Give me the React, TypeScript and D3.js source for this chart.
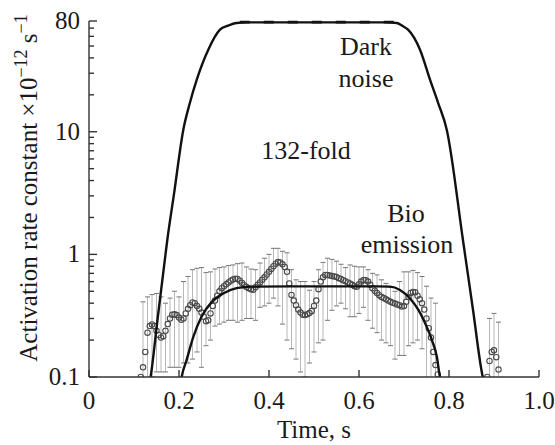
// Activation rate: dark noise vs bio emission (log scale)
import React from "react";
import * as d3 from "d3";

const SERIF = "Times New Roman";

// axis ticks
const xTicks = [0, 0.2, 0.4, 0.6, 0.8, 1.0];
const xTickLabels = ["0", "0.2", "0.4", "0.6", "0.8", "1.0"];
const yTicks = [0.1, 1, 10, 80];
const yTickLabels = ["0.1", "1", "10", "80"];

// dark noise curve (solid) and its plateau (dashed)
const darkTime = [0.134, 0.137, 0.153, 0.17, 0.174, 0.189, 0.2096, 0.2244, 0.2393, 0.2651, 0.2911, 0.309, 0.328, 0.35, 0.5, 0.66, 0.684, 0.6956, 0.709, 0.7356, 0.758, 0.7756, 0.795, 0.831, 0.853, 0.875, 0.878];
const darkRate = [0.085, 0.1, 0.31, 1.0, 1.31, 3.13, 10.4, 17.3, 26.5, 46.7, 68, 73.3, 77.1, 78, 78, 78, 77.1, 73.3, 68, 46.7, 26.5, 17.3, 10.4, 1.31, 0.36, 0.1, 0.09];
const plateauTime = [0.335, 0.68];
const plateauRate = [78.3, 78.3];

// bio emission fit
const fitTime = [0.204, 0.206, 0.217, 0.232, 0.25, 0.273, 0.298, 0.328, 0.36, 0.45, 0.55, 0.64, 0.669, 0.691, 0.713, 0.732, 0.747, 0.762, 0.773, 0.78, 0.782];
const fitRate = [0.09, 0.1, 0.138, 0.213, 0.31, 0.41, 0.48, 0.53, 0.546, 0.548, 0.548, 0.548, 0.546, 0.513, 0.439, 0.352, 0.274, 0.2, 0.146, 0.1, 0.095];

// measured bio emission points
const bioTime = [
  0.115, 0.12, 0.125, 0.13, 0.135, 0.14, 0.145, 0.15, 0.155, 0.16, 0.165, 0.17, 0.175, 0.18, 0.185, 0.19, 0.195, 0.2, 0.205, 0.21,
  0.215, 0.22, 0.225, 0.23, 0.235, 0.24, 0.245, 0.25, 0.255, 0.26, 0.265, 0.27, 0.275, 0.28, 0.285, 0.29, 0.295, 0.3, 0.305, 0.31,
  0.315, 0.32, 0.325, 0.33, 0.335, 0.34, 0.345, 0.35, 0.355, 0.36, 0.365, 0.37, 0.375, 0.38, 0.385, 0.39, 0.395, 0.4, 0.405, 0.41,
  0.415, 0.42, 0.425, 0.43, 0.435, 0.44, 0.445, 0.45, 0.455, 0.46, 0.465, 0.47, 0.475, 0.48, 0.485, 0.49, 0.495, 0.5, 0.505, 0.51,
  0.515, 0.52, 0.525, 0.53, 0.535, 0.54, 0.545, 0.55, 0.555, 0.56, 0.565, 0.57, 0.575, 0.58, 0.585, 0.59, 0.595, 0.6, 0.605, 0.61,
  0.615, 0.62, 0.625, 0.63, 0.635, 0.64, 0.645, 0.65, 0.655, 0.66, 0.665, 0.67, 0.675, 0.68, 0.685, 0.69, 0.695, 0.7, 0.705, 0.71,
  0.715, 0.72, 0.725, 0.73, 0.735, 0.74, 0.745, 0.75, 0.755, 0.76, 0.765, 0.77, 0.775,
  0.885, 0.89, 0.895, 0.9, 0.905, 0.91,
];
const bioRate = [
  0.1, 0.12, 0.16, 0.23, 0.26, 0.268, 0.26, 0.238, 0.22, 0.21, 0.215, 0.238, 0.27, 0.3, 0.322, 0.325, 0.32, 0.305, 0.293, 0.3,
  0.33, 0.36, 0.385, 0.405, 0.4, 0.38, 0.36, 0.335, 0.31, 0.285, 0.29, 0.33, 0.38, 0.42, 0.46, 0.5, 0.53, 0.55, 0.57, 0.59,
  0.61, 0.625, 0.632, 0.63, 0.61, 0.585, 0.56, 0.543, 0.53, 0.52, 0.515, 0.54, 0.565, 0.59, 0.62, 0.65, 0.685, 0.72, 0.76, 0.8,
  0.84, 0.865, 0.86, 0.83, 0.79, 0.72, 0.58, 0.467, 0.42, 0.385, 0.355, 0.335, 0.322, 0.32, 0.325, 0.332, 0.345, 0.38, 0.42, 0.52,
  0.6, 0.65, 0.68, 0.68, 0.672, 0.665, 0.66, 0.655, 0.64, 0.63, 0.615, 0.605, 0.59, 0.58, 0.565, 0.55, 0.545, 0.57, 0.6, 0.619,
  0.615, 0.6, 0.565, 0.53, 0.505, 0.485, 0.465, 0.45, 0.44, 0.43, 0.42, 0.41, 0.403, 0.397, 0.39, 0.385, 0.375, 0.38, 0.41, 0.45,
  0.485, 0.494, 0.49, 0.46, 0.43, 0.4, 0.355, 0.3, 0.25, 0.21, 0.16, 0.125, 0.105,
  0.1, 0.135, 0.16, 0.165, 0.145, 0.115,
];

// error bars
const errTime = [
  0.12, 0.13, 0.14, 0.15, 0.16, 0.17, 0.18, 0.19, 0.2, 0.21, 0.22, 0.23, 0.24, 0.25, 0.26, 0.27, 0.28, 0.29, 0.3, 0.31,
  0.32, 0.33, 0.34, 0.35, 0.36, 0.37, 0.38, 0.39, 0.4, 0.41, 0.42, 0.43, 0.44, 0.45, 0.46, 0.47, 0.48, 0.49, 0.5, 0.51,
  0.52, 0.53, 0.54, 0.55, 0.56, 0.57, 0.58, 0.59, 0.6, 0.61, 0.62, 0.63, 0.64, 0.65, 0.66, 0.67, 0.68, 0.69, 0.7, 0.71,
  0.72, 0.73, 0.74, 0.75, 0.76, 0.77, 0.89, 0.9, 0.91,
];
const errHigh = [
  0.41, 0.45, 0.47, 0.48, 0.45, 0.4, 0.44, 0.5, 0.45, 0.6, 0.66, 0.75, 0.77, 0.78, 0.71, 0.72, 0.76, 0.78, 0.79, 0.81,
  0.82, 0.84, 0.85, 0.79, 0.76, 0.75, 0.85, 0.93, 1.0, 1.12, 1.12, 1.06, 1.03, 0.75, 0.62, 0.6, 0.6, 0.51, 0.6, 0.75,
  0.86, 0.93, 0.91, 0.88, 0.83, 0.78, 0.82, 0.8, 0.79, 0.79, 0.75, 0.7, 0.68, 0.62, 0.58, 0.54, 0.5, 0.6, 0.72, 0.72,
  0.74, 0.71, 0.66, 0.55, 0.44, 0.4, 0.3, 0.33, 0.28,
];
const errLow = [
  0.09, 0.09, 0.1, 0.11, 0.11, 0.11, 0.12, 0.12, 0.12, 0.13, 0.13, 0.14, 0.16, 0.12, 0.18, 0.2, 0.26, 0.27, 0.28, 0.29,
  0.29, 0.28, 0.29, 0.3, 0.3, 0.29, 0.37, 0.38, 0.4, 0.44, 0.38, 0.27, 0.2, 0.17, 0.14, 0.11, 0.1, 0.13, 0.16, 0.19,
  0.2, 0.29, 0.35, 0.38, 0.4, 0.36, 0.31, 0.31, 0.33, 0.37, 0.29, 0.25, 0.23, 0.2, 0.19, 0.18, 0.14, 0.15, 0.15, 0.18,
  0.19, 0.2, 0.17, 0.09, 0.09, 0.09, 0.09, 0.09, 0.09,
];

const x = d3.scaleLinear().domain([0, 1]).range([89, 539]);
const y = d3.scaleLog().domain([0.1, 80]).range([377, 21]);

const minorY = [0.2, 0.3, 0.4, 0.5, 0.6, 0.7, 0.8, 0.9, 2, 3, 4, 5, 6, 7, 8, 9, 20, 30, 40, 50, 60, 70];

const makePath = (ts: number[], vs: number[]) =>
  d3
    .line<number>()
    .x((t) => x(t))
    .y((_, i) => y(vs[i]))
    .curve(d3.curveMonotoneX)(ts) || "";

export default function App() {
  const [x0, x1] = x.range();
  const [y0, y1] = y.range();

  return (
    <svg width={555} height={445} style={{ position: "absolute", left: 0, top: 0, background: "#fff" }}>
      <defs>
        <clipPath id="plotArea">
          <rect x={x0} y={y1 - 4} width={x1 - x0} height={y0 - y1 + 4} />
        </clipPath>
      </defs>

      <g clipPath="url(#plotArea)">
        {errTime.map((t, i) => {
          const cx = x(t);
          return (
            <g key={"e" + i}>
              <line x1={cx} x2={cx} y1={y(errHigh[i])} y2={y(errLow[i])} stroke="#b8b8b8" strokeWidth={1} />
              <line x1={cx - 2.5} x2={cx + 2.5} y1={y(errHigh[i])} y2={y(errHigh[i])} stroke="#777" strokeWidth={1} />
              <line x1={cx - 2.5} x2={cx + 2.5} y1={y(errLow[i])} y2={y(errLow[i])} stroke="#777" strokeWidth={1} />
            </g>
          );
        })}
        {bioTime.map((t, i) => (
          <circle key={"p" + i} cx={x(t)} cy={y(bioRate[i])} r={2.7} fill="none" stroke="#4a4a4a" strokeWidth={1.1} />
        ))}
        <path d={makePath(fitTime, fitRate)} fill="none" stroke="#111" strokeWidth={2.4} />
        <path d={makePath(darkTime, darkRate)} fill="none" stroke="#111" strokeWidth={2.4} />
        <path d={makePath(plateauTime, plateauRate)} fill="none" stroke="#111" strokeWidth={2.6} strokeDasharray="10 14" />
      </g>

      <g stroke="#333" strokeWidth={1.4}>
        <line x1={x0} x2={x0} y1={y0} y2={y1} />
        <line x1={x0} x2={x1} y1={y0} y2={y0} />
        {yTicks.map((v) => (
          <line key={"yt" + v} x1={x0} x2={x0 + 8} y1={y(v)} y2={y(v)} />
        ))}
        {minorY.map((v) => (
          <line key={"ym" + v} x1={x0} x2={x0 + 5} y1={y(v)} y2={y(v)} />
        ))}
        {xTicks.map((t) => (
          <line key={"xt" + t} x1={x(t)} x2={x(t)} y1={y0} y2={y0 - 7} />
        ))}
      </g>

      {yTicks.map((v, i) => (
        <text key={"yl" + v} fontFamily={SERIF} fontSize={25} fill="#1a1a1a" x={x0 - 9} y={y(v) + 8} textAnchor="end">
          {yTickLabels[i]}
        </text>
      ))}
      {xTicks.map((t, i) => (
        <text key={"xl" + t} fontFamily={SERIF} fontSize={25} fill="#1a1a1a" x={x(t)} y={409} textAnchor="middle">
          {xTickLabels[i]}
        </text>
      ))}
      <text fontFamily={SERIF} fontSize={25} fill="#1a1a1a" x={x(0.5)} y={438} textAnchor="middle">
        Time, s
      </text>
      <text fontFamily={SERIF} fontSize={25} fill="#1a1a1a" transform="translate(37,188) rotate(-90)" textAnchor="middle">
        Activation rate constant ×10
        <tspan dy={-10} fontSize={18}>−12</tspan>
        <tspan dy={10}> s</tspan>
        <tspan dy={-10} fontSize={18}>−1</tspan>
      </text>

      <text fontFamily={SERIF} fontSize={26} fill="#1a1a1a" x={366} y={55} textAnchor="middle">Dark</text>
      <text fontFamily={SERIF} fontSize={26} fill="#1a1a1a" x={366} y={87} textAnchor="middle">noise</text>
      <text fontFamily={SERIF} fontSize={26} fill="#1a1a1a" x={306} y={159} textAnchor="middle">132-fold</text>
      <text fontFamily={SERIF} fontSize={26} fill="#1a1a1a" x={406} y={222} textAnchor="middle">Bio</text>
      <text fontFamily={SERIF} fontSize={26} fill="#1a1a1a" x={407} y={253} textAnchor="middle">emission</text>
    </svg>
  );
}
